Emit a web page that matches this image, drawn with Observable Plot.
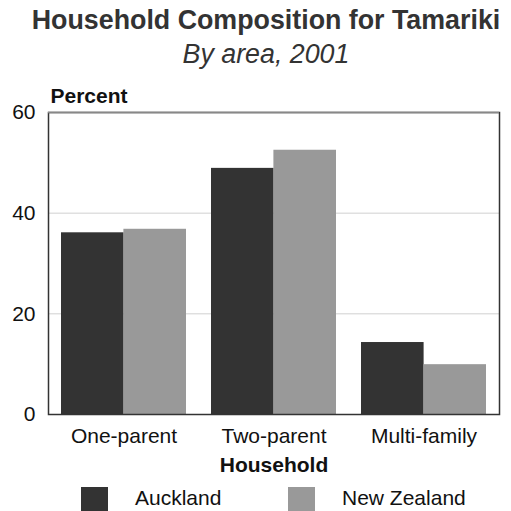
<!DOCTYPE html>
<html>
<head>
<meta charset="utf-8">
<script src="https://cdn.jsdelivr.net/npm/d3@7"></script>
<script src="https://cdn.jsdelivr.net/npm/@observablehq/plot@0.6"></script>
<style>
  html, body { margin: 0; padding: 0; background: #fff; }
  body { font-family: "Liberation Sans", Arial, sans-serif; }
  #wrap { position: relative; width: 511px; height: 511px; overflow: hidden; }
  .abs { position: absolute; }
  #title { left: 18px; width: 496px; top: 5px; text-align: center; font-size: 26.8px; font-weight: bold; line-height: 30px; color: #333; white-space: nowrap; }
  #subtitle { left: 18px; width: 496px; top: 39px; text-align: center; font-size: 26.8px; font-style: italic; line-height: 30px; color: #333; white-space: nowrap; }
  #chart { left: 0; top: 80px; }
  .sw { width: 27px; height: 27px; top: 487px; }
  .lt { top: 486px; font-size: 21px; line-height: 24px; color: #111; white-space: nowrap; }
</style>
</head>
<body>
<div id="wrap">
  <div id="title" class="abs">Household Composition for Tamariki</div>
  <div id="subtitle" class="abs">By area, 2001</div>
  <div id="chart" class="abs"></div>
  <div id="legend"></div>
</div>
<script>
const households = ["One-parent", "Two-parent", "Multi-family"];
const areas = ["Auckland", "New Zealand"];
const aucklandValues = [36.1, 48.9, 14.3];
const newZealandValues = [36.8, 52.5, 9.9];
const yTicks = [0, 20, 40, 60];
const colors = ["#333333", "#999999"];

const auckland = households.map((h, i) => ({household: h, value: aucklandValues[i]}));
const newZealand = households.map((h, i) => ({household: h, value: newZealandValues[i]}));

const halfBand = 62.4;

const plot = Plot.plot({
  width: 511,
  height: 400,
  marginTop: 32,
  marginBottom: 66,
  marginLeft: 48,
  marginRight: 12,
  style: { fontFamily: "'Liberation Sans', Arial, sans-serif", fontSize: "21px", color: "#111", background: "transparent" },
  x: { type: "band", domain: households, paddingInner: 0.168, paddingOuter: 0.084, label: null },
  y: { domain: [0, 60], ticks: yTicks, label: null },
  marks: [
    Plot.ruleY([20, 40], { stroke: "#d0d0d0", strokeWidth: 1 }),
    Plot.barY(auckland, { x: "household", y: "value", fill: colors[0], insetRight: halfBand }),
    Plot.barY(newZealand, { x: "household", y: "value", fill: colors[1], insetLeft: halfBand }),
    Plot.frame({ stroke: "#333", strokeWidth: 1.5 }),
    Plot.ruleY([60], { stroke: "#888", strokeWidth: 1.5 }),
    Plot.axisY({ ticks: yTicks, tickSize: 0, tickPadding: 13, fontSize: 21, label: null }),
    Plot.axisX({ tickSize: 0, tickPadding: 14, fontSize: 21, label: null }),
    Plot.text(["Household"], { text: d => d, frameAnchor: "bottom", dy: 51, lineAnchor: "middle", fontWeight: "bold", fontSize: 21, fill: "#111" }),
    Plot.text(["Percent"], { text: d => d, frameAnchor: "top-left", dx: 2, dy: -10, textAnchor: "start", lineAnchor: "bottom", fontWeight: "bold", fontSize: 21, fill: "#111" })
  ]
});
document.getElementById("chart").appendChild(plot);

const legend = document.getElementById("legend");
const swLeft = [81, 288];
const txLeft = [135, 342];
areas.forEach((a, i) => {
  const sw = document.createElement("div");
  sw.className = "abs sw";
  sw.style.left = swLeft[i] + "px";
  sw.style.background = colors[i];
  legend.appendChild(sw);
  const t = document.createElement("div");
  t.className = "abs lt";
  t.style.left = txLeft[i] + "px";
  t.textContent = a;
  legend.appendChild(t);
});
</script>
</body>
</html>
